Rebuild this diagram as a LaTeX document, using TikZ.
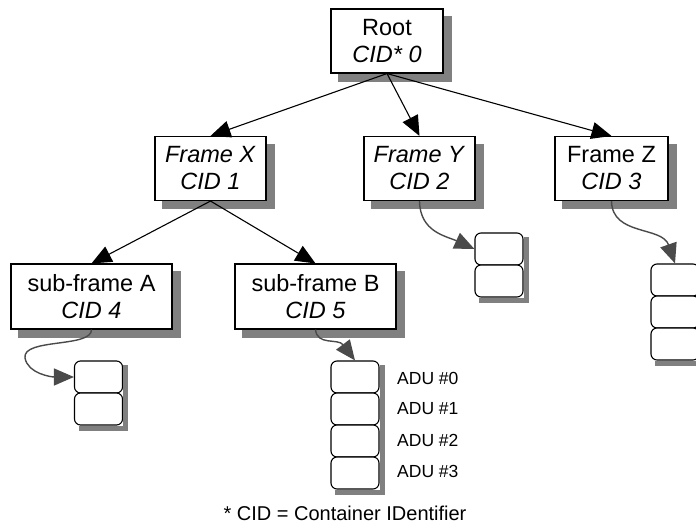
\documentclass[tikz,border=0pt]{standalone}
\usepackage{fontspec}
\setmainfont{Liberation Sans}
\usetikzlibrary{arrows.meta}
\definecolor{shadowgray}{HTML}{808080}
\definecolor{curvegray}{HTML}{4A4A4A}
\tikzset{
  framebox/.style={draw, fill=white, line width=1.1pt, minimum height=64pt, inner sep=0pt,
    align=center, font=\fontsize{23.5}{27}\selectfont},
  cell/.style={draw, fill=white, line width=1.1pt, rounded corners=6pt, minimum width=48pt,
    minimum height=32pt, inner sep=0pt},
  bigshadow/.style={draw=shadowgray, line width=8pt, line cap=butt},
  smallshadow/.style={draw=shadowgray, line width=5pt, line cap=butt},
  tree/.style={line width=1.1pt, -{Triangle[length=20pt,width=17pt]}},
  curvy/.style={draw=curvegray, line width=1.4pt, -{Triangle[length=20pt,width=17pt,fill=curvegray]}},
  adu/.style={anchor=west, inner sep=0pt, font=\fontsize{17.5}{20}\selectfont},
}
\begin{document}
\begin{tikzpicture}[x=1pt,y=-1pt]
\useasboundingbox (0,0) rectangle (696,529);

% tree boxes
\node[framebox, minimum width=112pt] (root) at (387,41) {Root\\\textit{CID* 0}};
\node[framebox, minimum width=111pt] (fx) at (210.5,168.5) {\textit{Frame X}\\\textit{CID 1}};
\node[framebox, minimum width=111pt] (fy) at (419.5,168.5) {\textit{Frame Y}\\\textit{CID 2}};
\node[framebox, minimum width=113pt] (fz) at (611.5,168.5) {Frame Z\\\textit{CID 3}};
\node[framebox, minimum width=161pt, minimum height=65pt] (sa) at (91.5,296.5) {sub-frame A\\\textit{CID 4}};
\node[framebox, minimum width=161pt, minimum height=65pt] (sb) at (315.5,296.5) {sub-frame B\\\textit{CID 5}};

% stacks
\node[cell] (a1) at (98.5,377) {};
\node[cell] (a2) at (98.5,409) {};
\node[cell] (b1) at (355,377) {};
\node[cell] (b2) at (355,409) {};
\node[cell] (b3) at (355,441) {};
\node[cell] (b4) at (355,473) {};
\node[cell] (y1) at (499,249) {};
\node[cell] (y2) at (499,281) {};
\node[cell] (z1) at (675,280) {};
\node[cell] (z2) at (675,312) {};
\node[cell] (z3) at (675,344) {};

% shadows (strokes along the lower right sides)
\foreach \n in {root,fx,fy,fz,sa,sb} {
  \draw[bigshadow] ([shift={(4,8)}]\n.north east) -- ([shift={(4,8)}]\n.south east);
  \draw[bigshadow] ([shift={(8,4)}]\n.south west) -- ([shift={(8,4)}]\n.south east);
}
\foreach \n in {a1,a2,b1,b2,b3,b4,y1,y2,z1,z2,z3}
  \draw[smallshadow] ([shift={(2.5,5)}]\n.north east) -- ([shift={(2.5,5)}]\n.south east);
\foreach \n in {a2,b4,y2,z3}
  \draw[smallshadow] ([shift={(5,2.5)}]\n.south west) -- ([shift={(5,2.5)}]\n.south east);

% ADU labels
\node[adu] (l0) at (397,378) {ADU \#0};
\node[adu] (l1) at (397,409) {ADU \#1};
\node[adu] (l2) at (397,440) {ADU \#2};
\node[adu] (l3) at (397,471) {ADU \#3};

% tree connectors
\draw[tree] (root.south) -- (fx.north);
\draw[tree] (root.south) -- (fy.north);
\draw[tree] (root.south) -- (fz.north);
\draw[tree] (fx.south) -- (sa.north);
\draw[tree] (fx.south) -- (sb.north);

% curvy connectors
\draw[curvy] (sa.south) .. controls (92,348) and (22,338) .. (25,358) .. controls (28,374) and (52,377) .. (a1.west);
\draw[curvy] (sb.south) .. controls (317,346) and (338,338) .. (b1.north);
\draw[curvy] (fy.south) .. controls (420,232) and (446,236) .. (y1.west);
\draw[curvy] (fz.south) .. controls (612,236) and (662,226) .. (z1.north);

% footnote
\node[font=\fontsize{20}{24}\selectfont] (note) at (345,513) {* CID = Container IDentifier};
\end{tikzpicture}
\end{document}
